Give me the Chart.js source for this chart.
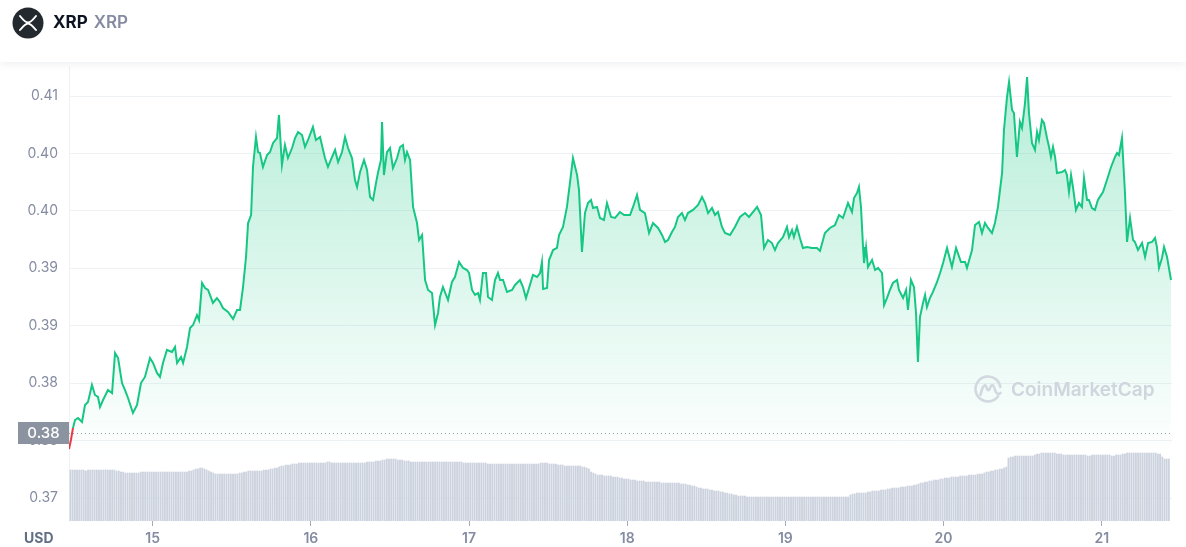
<!DOCTYPE html>
<html><head><meta charset="utf-8">
<script src="https://cdn.jsdelivr.net/npm/chart.js@4.4.0/dist/chart.umd.min.js"></script>
<style>
html,body{margin:0;padding:0;background:#fff;width:1186px;height:547px;overflow:hidden;font-family:Inter,"DejaVu Sans",sans-serif;}
#wrap{position:relative;width:1186px;height:547px;}
#c{position:absolute;left:0;top:0;}
#hdr{position:absolute;left:0;top:0;width:1186px;height:62px;background:#fff;box-shadow:0 2px 8px rgba(88,102,126,0.10);z-index:2;}
#ttl{position:absolute;left:53px;top:14px;font-size:17px;line-height:17px;white-space:nowrap;}
#ttl b{font-weight:700;color:#0d1421;}
#ttl span{font-weight:600;color:#858ca2;margin-left:6px;}
#usd{position:absolute;left:24px;top:531px;font:700 14px/14px Inter,sans-serif;color:#616e85;}
</style></head>
<body><div id="wrap">
<canvas id="c" width="1186" height="547" style="width:1186px;height:547px"></canvas>
<div id="hdr">
<svg width="32" height="32" viewBox="0 0 32 32" style="position:absolute;left:12px;top:7px">
<circle cx="16" cy="16" r="15.5" fill="#23292f"/>
<path d="M8 9 C12 14 13.8 15.6 16 15.6 C18.2 15.6 20 14 24 9" stroke="#fff" stroke-width="2" fill="none" stroke-linecap="round"/>
<path d="M8 23 C12 18 13.8 16.4 16 16.4 C18.2 16.4 20 18 24 23" stroke="#fff" stroke-width="2" fill="none" stroke-linecap="round"/>
</svg>
<div id="ttl"><b>XRP</b><span>XRP</span></div>
</div>
<div id="usd">USD</div>
</div>
<script>
// ---- data ----
const priceDays = [
14.471,14.483,14.496,14.509,14.528,14.553,14.572,14.591,14.616,14.635,
14.654,14.667,14.686,14.717,14.743,14.762,14.781,14.806,14.825,14.844,
14.875,14.901,14.926,14.951,14.983,15.002,15.027,15.046,15.065,15.090,
15.122,15.141,15.154,15.179,15.192,15.217,15.236,15.255,15.280,15.293,
15.312,15.331,15.350,15.381,15.406,15.425,15.444,15.476,15.508,15.533,
15.552,15.571,15.590,15.603,15.622,15.634,15.653,15.666,15.678,15.697,
15.723,15.742,15.761,15.786,15.798,15.817,15.836,15.855,15.881,15.900,
15.919,15.944,15.963,15.982,16.013,16.032,16.058,16.089,16.108,16.134,
16.153,16.172,16.197,16.216,16.235,16.260,16.279,16.292,16.311,16.336,
16.355,16.374,16.393,16.412,16.424,16.443,16.450,16.462,16.481,16.500,
16.519,16.545,16.564,16.582,16.595,16.608,16.627,16.646,16.671,16.684,
16.703,16.722,16.741,16.766,16.785,16.804,16.816,16.835,16.867,16.892,
16.911,16.937,16.962,16.987,17.000,17.019,17.038,17.057,17.069,17.088,
17.107,17.120,17.145,17.164,17.183,17.196,17.215,17.240,17.272,17.291,
17.322,17.341,17.360,17.385,17.404,17.430,17.449,17.461,17.468,17.493,
17.506,17.531,17.556,17.569,17.594,17.619,17.638,17.657,17.683,17.695,
17.714,17.733,17.752,17.771,17.784,17.809,17.828,17.853,17.872,17.898,
17.923,17.954,17.980,18.018,18.037,18.062,18.081,18.112,18.138,18.163,
18.195,18.220,18.239,18.258,18.283,18.302,18.321,18.346,18.365,18.384,
18.416,18.448,18.473,18.492,18.511,18.536,18.555,18.574,18.599,18.618,
18.650,18.681,18.713,18.745,18.770,18.795,18.821,18.846,18.865,18.890,
18.915,18.934,18.953,18.985,19.010,19.023,19.042,19.054,19.073,19.092,
19.111,19.137,19.168,19.200,19.219,19.250,19.282,19.314,19.339,19.364,
19.396,19.421,19.434,19.453,19.465,19.478,19.491,19.497,19.510,19.522,
19.548,19.567,19.586,19.611,19.624,19.642,19.661,19.680,19.706,19.718,
19.744,19.763,19.775,19.794,19.813,19.826,19.838,19.851,19.870,19.883,
19.895,19.914,19.933,19.959,19.978,19.997,20.022,20.053,20.079,20.110,
20.136,20.148,20.180,20.199,20.224,20.243,20.262,20.281,20.306,20.325,
20.344,20.370,20.382,20.401,20.414,20.433,20.445,20.464,20.483,20.496,
20.515,20.528,20.540,20.559,20.578,20.591,20.603,20.622,20.635,20.654,
20.667,20.679,20.692,20.705,20.717,20.749,20.768,20.780,20.793,20.806,
20.818,20.837,20.856,20.875,20.888,20.907,20.919,20.938,20.957,20.976,
21.008,21.033,21.059,21.084,21.097,21.109,21.128,21.147,21.160,21.179,
21.198,21.210,21.229,21.255,21.274,21.293,21.318,21.337,21.349,21.362,
21.381,21.394,21.413,21.438];

const prices = [
.37927,.38005,.38110,.38179,.38197,.38162,.38310,.38336,.38484,.38397,
.38380,.38292,.38353,.38440,.38414,.38763,.38719,.38501,.38440,.38371,
.38240,.38310,.38501,.38554,.38719,.38676,.38589,.38554,.38676,.38789,
.38771,.38815,.38676,.38728,.38676,.38815,.38980,.39006,.39093,.39050,
.39372,.39328,.39311,.39198,.39241,.39207,.39154,.39120,.39059,.39137,
.39137,.39337,.39598,.39894,.39964,.40382,.40643,.40512,.40504,.40382,
.40486,.40512,.40591,.40634,.40835,.40399,.40573,.40460,.40547,.40634,
.40687,.40660,.40556,.40617,.40730,.40617,.40643,.40460,.40382,.40469,
.40530,.40425,.40512,.40643,.40547,.40460,.40269,.40208,.40338,.40443,
.40356,.40121,.40095,.40243,.40330,.40443,.40774,.40312,.40512,.40547,
.40373,.40460,.40556,.40573,.40443,.40512,.40443,.40034,.39894,.39746,
.39790,.39398,.39311,.39285,.39006,.39111,.39250,.39337,.39224,.39381,
.39424,.39555,.39503,.39485,.39459,.39311,.39268,.39285,.39224,.39459,
.39459,.39250,.39224,.39398,.39459,.39398,.39398,.39294,.39311,.39355,
.39398,.39337,.39241,.39355,.39442,.39424,.39459,.39555,.39320,.39328,
.39572,.39659,.39677,.39790,.39860,.40034,.40243,.40460,.40312,.40182,
.39642,.39981,.40068,.40095,.40025,.40034,.39938,.39920,.40068,.39947,
.39938,.39990,.39964,.39964,.40034,.40138,.40008,.39981,.39807,.39894,
.39851,.39790,.39729,.39746,.39816,.39860,.39947,.39981,.39920,.39981,
.40008,.40051,.40121,.40068,.39981,.40025,.39964,.39990,.39860,.39807,
.39790,.39860,.39947,.39981,.39947,.39990,.40034,.39964,.39677,.39746,
.39720,.39659,.39720,.39772,.39860,.39772,.39833,.39772,.39860,.39764,
.39677,.39685,.39677,.39677,.39651,.39807,.39851,.39877,.39964,.39938,
.40068,.39990,.40112,.40156,.40208,.40034,.39685,.39546,.39685,.39511,
.39572,.39485,.39503,.39459,.39180,.39241,.39311,.39372,.39398,.39311,
.39241,.39311,.39137,.39398,.39337,.39111,.38684,.39076,.39198,.39268,
.39163,.39241,.39294,.39381,.39459,.39546,.39677,.39511,.39677,.39555,
.39555,.39503,.39659,.39877,.39903,.39807,.39894,.39851,.39807,.39894,
.40034,.40330,.40704,.40991,.41122,.40878,.40852,.40469,.40774,.40721,
.40939,.41165,.40852,.40591,.40530,.40687,.40617,.40791,.40765,.40634,
.40556,.40469,.40556,.40469,.40330,.40338,.40356,.40312,.40164,.40312,
.40208,.40008,.40068,.40034,.40286,.40095,.40095,.40025,.40008,.40095,
.40164,.40269,.40382,.40469,.40504,.40486,.40634,.40156,.39729,.39938,
.39746,.39729,.39659,.39720,.39598,.39720,.39729,.39764,.39685,.39503,
.39590,.39685,.39598,.39398];

// reference (opening) price shown by the dotted line and badge
const refPrice = 0.38066;

// volume bars: one every 20 minutes, starting at day 14.48 (relative units)
const volStartDay = 14.48;
const volStepDays = 1/72;
const volumes = [
51,51,51,51,51,51,51,50,51,51,51,51,51,51,51,51,51,51,51,51,51,50,50,49,49,
48,48,48,48,48,48,48,
49,49,49,49,49,49,49,49,49,49,49,49,49,49,49,49,49,49,49,49,49,49,50,50,51,
52,52,53,53,52,51,50,49,
48,47,47,47,47,47,47,47,47,47,47,47,48,48,49,49,
50,50,50,50,50,50,50,51,51,51,52,52,53,53,54,
55,55,56,56,56,57,57,57,58,
58,58,58,58,58,58,58,58,58,58,58,58,59,59,58,58,58,58,58,58,58,58,58,58,58,58,58,58,58,58,59,59,59,59,60,60,
60,61,61,62,62,62,62,62,61,61,61,60,60,60,
59,59,59,59,59,59,59,59,59,59,59,59,59,59,59,59,59,59,59,59,59,59,59,59,58,58,58,
58,58,58,58,58,58,58,58,57,57,57,57,57,57,57,57,57,57,57,57,57,57,57,57,57,57,57,57,57,57,57,57,58,58,58,58,57,57,57,57,56,
56,56,55,55,55,55,55,55,55,55,54,54,53,52,
49,48,47,46,46,46,45,45,45,45,44,44,44,43,
43,42,42,42,41,41,41,40,40,
40,40,39,39,39,39,39,39,39,38,38,38,38,38,38,38,38,38,
37,37,37,36,36,35,35,34,33,
33,32,32,32,31,31,30,30,30,29,29,28,28,27,27,26,26,25,
25,25,25,24,24,24,24,24,24,24,24,24,24,24,24,24,24,24,24,24,24,24,24,24,24,24,24,24,24,24,24,24,24,24,24,24,24,24,24,24,24,24,24,24,24,24,24,24,24,24,
26,27,27,28,28,28,28,28,
29,29,30,30,30,30,31,31,31,
32,32,33,33,33,33,34,34,34,35,35,35,36,36,
37,38,38,39,39,40,40,41,41,41,42,42,43,43,43,
44,44,44,44,45,45,45,45,46,46,46,46,47,47,47,
48,49,49,50,50,51,51,52,52,53,54,
63,64,64,
65,65,65,65,65,65,65,65,65,
66,67,67,68,68,68,68,68,68,68,67,67,67,66,66,
66,66,66,66,66,66,66,66,66,65,65,66,66,66,66,66,66,66,66,66,65,65,66,66,66,
67,67,68,68,68,68,68,68,68,68,68,68,68,68,68,68,67,67,
64,62,62,62];

const xTickValues = [15,16,17,18,19,20,21];
const xTickLabels = ['15','16','17','18','19','20','21'];
const yTickValues = [0.375,0.38,0.385,0.39,0.395,0.40,0.405,0.41];
const yTickLabels = ['0.37','0.38','0.38','0.39','0.39','0.40','0.40','0.41'];

const xMin = 14.4708, xMax = 21.4443;
const yMin = 0.372998, yMax = 0.412612;

// ---- chart ----
const GREEN = '#16c784', RED = '#ea3943';
const priceData = priceDays.map((d,i)=>({x:d, y:prices[i]}));
const volData = volumes.map((v,i)=>({x: volStartDay + i*volStepDays, y: v}));

function fillGrad(context){
  const chart = context.chart; const a = chart.chartArea;
  if(!a) return 'rgba(22,199,132,0.15)';
  const g = chart.ctx.createLinearGradient(0, a.top, 0, a.bottom);
  g.addColorStop(0, 'rgba(22,199,132,0.32)');
  g.addColorStop(0.86, 'rgba(22,199,132,0.0)');
  g.addColorStop(1, 'rgba(22,199,132,0.0)');
  return g;
}

const overlay = {
  id:'overlay',
  afterDatasetsDraw(chart){
    const {ctx, chartArea:a, scales} = chart;
    const yy = Math.round(scales.y.getPixelForValue(refPrice)) + 0.5;
    ctx.save();
    ctx.strokeStyle = '#9aa1ae'; ctx.lineWidth = 1; ctx.setLineDash([1,3]);
    ctx.beginPath(); ctx.moveTo(a.left, yy); ctx.lineTo(a.right, yy); ctx.stroke();
    ctx.setLineDash([]);
    // watermark
    const cx = a.right - 184, cy = a.bottom - 132;
    ctx.strokeStyle = '#d3d8e1'; ctx.lineWidth = 2.6; ctx.lineCap = 'round'; ctx.lineJoin='round';
    ctx.beginPath(); ctx.arc(cx, cy, 12.5, 0.2*Math.PI, 1.95*Math.PI); ctx.stroke();
    ctx.beginPath();
    ctx.moveTo(cx-7.5, cy+6);
    ctx.quadraticCurveTo(cx-5, cy-6, cx-2, cy-3);
    ctx.quadraticCurveTo(cx, cy+5, cx+2.5, cy-2);
    ctx.quadraticCurveTo(cx+5, cy-7, cx+7, cy+1);
    ctx.quadraticCurveTo(cx+9, cy+7, cx+12.5, cy+4);
    ctx.stroke();
    ctx.fillStyle = '#d0d5de'; ctx.font = '600 19px Inter'; ctx.textAlign='left'; ctx.textBaseline='middle';
    ctx.fillText('CoinMarketCap', cx + 23, cy + 1);
    ctx.restore();
  },
  afterDraw(chart){
    const {ctx, chartArea:a, scales} = chart;
    const yy = scales.y.getPixelForValue(refPrice);
    ctx.save();
    ctx.fillStyle = '#8b92a0';
    ctx.fillRect(18, Math.round(yy) - 11, a.left - 18, 22);
    ctx.fillStyle = '#ffffff'; ctx.font = '500 15px Inter'; ctx.textAlign='center'; ctx.textBaseline='middle';
    ctx.fillText(refPrice.toFixed(2), (18 + a.left)/2, Math.round(yy) + 0.5);
    ctx.restore();
  }
};

new Chart(document.getElementById('c'), {
  type:'line',
  data:{datasets:[
    {type:'line', label:'Price', data:priceData, yAxisID:'y', borderColor:GREEN, borderWidth:2,
     pointRadius:0, tension:0, fill:'start', backgroundColor:fillGrad, order:1,
     segment:{borderColor: c => (prices[c.p0DataIndex] < refPrice || prices[c.p1DataIndex] < refPrice) ? RED : GREEN}},
    {type:'bar', label:'Volume', data:volData, yAxisID:'yv', backgroundColor:'#ccd2de', barThickness:1.2, order:0}
  ]},
  options:{
    responsive:false, animation:false, devicePixelRatio:1,
    layout:{padding:{left:0, right:14, top:66, bottom:0}},
    plugins:{legend:{display:false}, tooltip:{enabled:false}},
    scales:{
      x:{type:'linear', min:xMin, max:xMax, offset:false,
        grid:{offset:false, drawOnChartArea:false, drawTicks:true, tickLength:5, tickColor:'#a3abb9', tickWidth:1},
        border:{display:false},
        ticks:{color:'#858ca2', font:{family:'Inter', size:14, weight:'600'}, padding:4, maxRotation:0, autoSkip:false,
          callback:(v,i)=>xTickLabels[i]},
        afterBuildTicks: s => { s.ticks = xTickValues.map(v=>({value:v})); },
        afterFit: s => { s.height = 26; }
      },
      y:{type:'linear', position:'left', min:yMin, max:yMax,
        grid:{color:'#eff2f5', drawTicks:false},
        border:{display:true, color:'#eff2f5'},
        ticks:{color:'#858ca2', font:{family:'Inter', size:14}, padding:11, autoSkip:false,
          callback:(v,i)=>yTickLabels[i]},
        afterBuildTicks: s => { s.ticks = yTickValues.map(v=>({value:v})); },
        afterFit: s => { s.width = 69; }
      },
      yv:{type:'linear', display:false, min:0, max:455}
    }
  },
  plugins:[overlay]
});
</script>
</body></html>
